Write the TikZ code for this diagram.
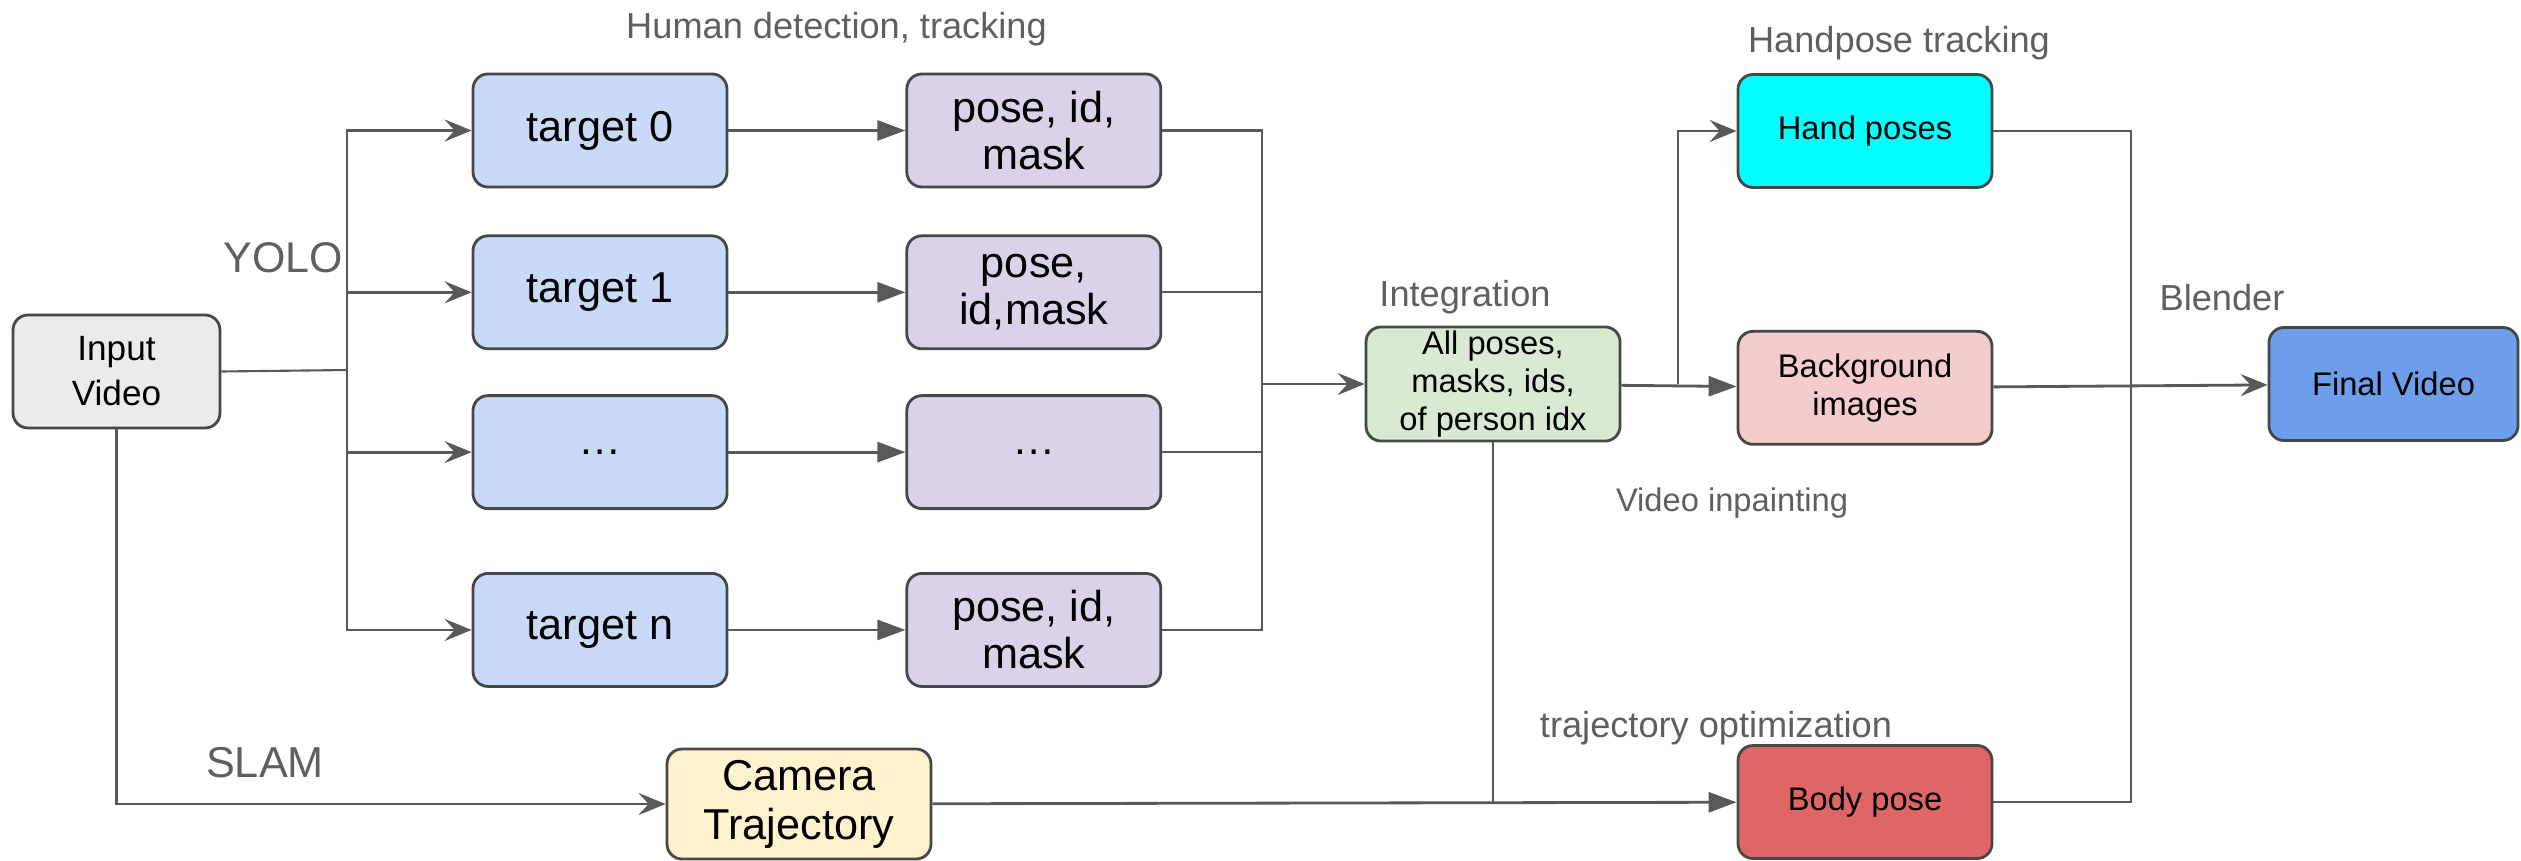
\documentclass[tikz,border=0pt]{standalone}
\usepackage{fontspec}
\setmainfont{Liberation Sans}
\usetikzlibrary{arrows.meta,positioning}
\definecolor{tgtc}{HTML}{C9DAF8}
\definecolor{posec}{HTML}{D9D2E9}
\definecolor{inc}{HTML}{EBEBEB}
\definecolor{integc}{HTML}{D9EAD3}
\definecolor{handc}{HTML}{00FFFF}
\definecolor{bgc}{HTML}{F4CCCC}
\definecolor{finalc}{HTML}{6D9EEB}
\definecolor{bodyc}{HTML}{E06666}
\definecolor{camc}{HTML}{FFF2CC}
\definecolor{linec}{HTML}{595959}
\definecolor{lblc}{HTML}{5F5F5F}

\begin{document}
\begin{tikzpicture}[
  box/.style={draw=black!72, rounded corners=0.15cm, line width=0.8pt,
    minimum width=2.54cm, minimum height=1.13cm, align=center, inner sep=1pt},
  big/.style={box, font=\fontsize{12.3}{13.4}\selectfont},
  small/.style={box, font=\fontsize{9.3}{10.9}\selectfont},
  tgt/.style={big, fill=tgtc},
  posebox/.style={big, fill=posec},
  line/.style={draw=linec, line width=0.6pt},
  arr/.style={line, line width=0.8pt, -{Stealth[length=2.7mm, width=2.2mm, inset=1mm]}},
  arrT/.style={line, line width=0.8pt, -{Triangle[length=2.8mm, width=2mm]}},
  lbl/.style={text=lblc, font=\fontsize{10.3}{12}\selectfont}
]
  \useasboundingbox (0,0) rectangle (25.21,-8.60);

  \node[box, fill=inc, minimum width=2.07cm, font=\fontsize{10}{12.8}\selectfont] (input) at (1.165,-3.715) {Input\\Video};

  \node[tgt] (t0) at (6.00,-1.305) {target 0};
  \node[tgt, below=0.46cm of t0] (t1) {target 1};
  \node[tgt, below=0.44cm of t1] (t2) {…};
  \node[tgt, below=0.62cm of t2] (tn) {target n};

  \node[posebox, right=1.77cm of t0] (p0) {pose, id,\\mask};
  \node[posebox, right=1.77cm of t1] (p1) {pose,\\id,mask};
  \node[posebox, right=1.77cm of t2] (p2) {…};
  \node[posebox, right=1.77cm of tn] (pn) {pose, id,\\mask};

  \node[small, fill=integc] (integ) at (14.93,-3.84) {All poses,\\masks, ids,\\of person idx};
  \node[small, fill=handc] (hand) at (18.65,-1.31) {Hand poses};
  \node[small, fill=bgc, below=1.41cm of hand] (bg) {Background\\images};
  \node[small, fill=finalc, minimum width=2.49cm] (final) at (23.935,-3.84) {Final Video};
  \node[small, fill=bodyc] (body) at (18.65,-8.02) {Body pose};
  \node[big, fill=camc, minimum width=2.64cm, minimum height=1.10cm,
    font=\fontsize{12.3}{14}\selectfont] (cam) at (7.99,-8.04) {Camera\\Trajectory};

  % labels
  \node[lbl] (lhuman) at (8.365,-0.29) {Human detection, tracking};
  \node[lbl, font=\fontsize{12.2}{14}\selectfont] (lyolo) at (2.835,-2.58) {YOLO};
  \node[lbl, font=\fontsize{12.3}{14}\selectfont] (lslam) at (2.65,-7.63) {SLAM};
  \node[lbl] (linteg) at (14.65,-2.97) {Integration};
  \node[lbl] (lhand) at (18.99,-0.43) {Handpose tracking};
  \node[lbl] (lblend) at (22.22,-2.98) {Blender};
  \node[lbl, font=\fontsize{9.3}{11}\selectfont] (lpaint) at (17.32,-5.03) {Video inpainting};
  \node[lbl] (ltraj) at (17.16,-7.28) {trajectory optimization};

  \coordinate (split) at (3.47,-3.70);
  \coordinate (merge) at (12.62,-3.84);
  \coordinate (hsplit) at (16.78,-3.84);
  \coordinate (blend) at (21.31,-3.84);

  % detection branches
  \draw[line] (input.east) -- (split);
  \foreach \i in {0,1,2,n} {
    \draw[arr] (split) |- (t\i);
    \draw[arrT] (t\i) -- (p\i);
    \draw[line] (p\i.east) -| (merge);
  }
  \draw[arr] (merge) -- (integ);

  % hands and background
  \draw[arrT] (integ) -- (bg);
  \draw[arr] (hsplit) |- (hand);
  \draw[line] (hand.east) -| (blend);
  \draw[line] (body.east) -| (blend);
  \draw[arr] (bg) -- (final);

  % camera and body
  \draw[arr] (input) |- (cam);
  \draw[arrT] (cam) -- (body);
  \draw[line] (integ.south) -- (integ |- body.west);
\end{tikzpicture}
\end{document}
